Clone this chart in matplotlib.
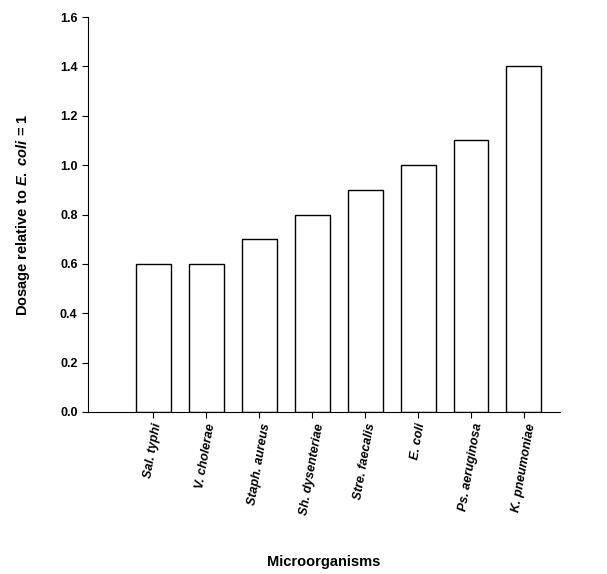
import matplotlib
matplotlib.use("Agg")
import matplotlib.pyplot as plt

organisms = ["Sal. typhi", "V. cholerae", "Staph. aureus", "Sh. dysenteriae",
             "Stre. faecalis", "E. coli", "Ps. aeruginosa", "K. pneumoniae"]
dosage = [0.6, 0.6, 0.7, 0.8, 0.9, 1.0, 1.1, 1.4]
yticks = [0.0, 0.2, 0.4, 0.6, 0.8, 1.0, 1.2, 1.4, 1.6]

plt.rcParams['font.family'] = ['Liberation Sans', 'DejaVu Sans']
plt.rcParams['mathtext.fontset'] = 'custom'
plt.rcParams['mathtext.it'] = 'Liberation Sans:italic:bold'
plt.rcParams['mathtext.rm'] = 'Liberation Sans:bold'

fig = plt.figure(figsize=(6.07, 5.74), dpi=100)
ax = fig.add_axes([88/607, 1 - 412/574, 472/607, 395/574])

pos = list(range(len(organisms)))
ax.bar(pos, dosage, width=0.66, color='white', edgecolor='black', linewidth=1)
ax.set_xlim(-1.23, 7.68)
ax.set_ylim(0, 1.6)
ax.set_yticks(yticks)
ax.set_yticklabels([f"{v:.1f}" for v in yticks], fontsize=9, fontweight='bold')
ax.set_xticks(pos)
ax.set_xticklabels(organisms, rotation=80, fontsize=9, fontweight='bold',
                   style='italic', ha='center')
ax.tick_params(direction='out', length=4)
ax.spines['top'].set_visible(False)
ax.spines['right'].set_visible(False)

ax.set_ylabel(r"Dosage relative to $\it{E.\ coli}$ = 1", fontsize=10.5,
              fontweight='bold', labelpad=20)
ax.set_xlabel("Microorganisms", fontsize=10.5, fontweight='bold', labelpad=28)

fig.savefig("out.png", dpi=100)
